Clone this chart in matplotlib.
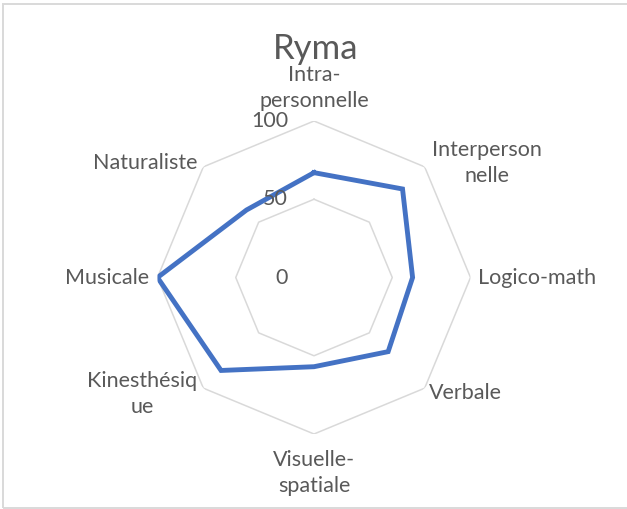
import numpy as np
import matplotlib
matplotlib.use("Agg")
import matplotlib.pyplot as plt
from matplotlib.patches import Rectangle

# --------------------------
# Data
# --------------------------
categories = ["Intra-\npersonnelle", "Interperson\nnelle", "Logico-math", "Verbale",
              "Visuelle-\nspatiale", "Kinesthésiq\nue", "Musicale", "Naturaliste"]
scores = [67, 80, 63, 67, 57, 84, 100, 61]
grid_levels = [50, 100]
tick_labels = ["0", "50", "100"]
title = "Ryma"

# label placement: (dx px, dy px, ha, va) relative to the outer vertex
label_pos = [(0, 10, "center", "bottom"),
             (62, 4, "center", "center"),
             (7, 0, "left", "center"),
             (4, -5, "left", "center"),
             (0, -16, "center", "top"),
             (-61, -6, "center", "center"),
             (-8, 0, "right", "center"),
             (-6, 4, "right", "center")]

TEXT = "#595959"
GRID = "#d9d9d9"
LINE = "#4472c4"
FS = 15.5
plt.rcParams["font.family"] = ["Lato", "DejaVu Sans"]

# --------------------------
# Figure
# --------------------------
fig = plt.figure(figsize=(6.27, 5.09), dpi=100)
fig.patches.append(Rectangle((3 / 627, 1.5 / 509), 1.2, 1 - 5.5 / 509,
                             transform=fig.transFigure, fill=False,
                             edgecolor=GRID, linewidth=1.4))

ax = fig.add_axes([0.2512, 0.1473, 0.4992, 0.615], projection="polar")
ax.set_theta_zero_location("N")
ax.set_theta_direction(-1)
ax.set_ylim(0, 100)
ax.axis("off")

n = len(categories)
theta = np.linspace(0, 2 * np.pi, n, endpoint=False)
theta_c = np.append(theta, theta[0])

# octagon gridlines
for lvl in grid_levels:
    ax.plot(theta_c, [lvl] * (n + 1), color=GRID, linewidth=1.1, zorder=1)

# series
vals = scores + scores[:1]
ax.plot(theta_c, vals, color=LINE, linewidth=3.5, solid_joinstyle="miter", zorder=3)

# radial value labels, left of the vertical axis
for lbl in tick_labels:
    ax.annotate(lbl, xy=(0, float(lbl)), xytext=(-26, 0), textcoords="offset pixels",
                ha="right", va="center", fontsize=FS, color=TEXT, zorder=4)

# category labels
for t, name, (dx, dy, ha, va) in zip(theta, categories, label_pos):
    ax.annotate(name, xy=(t, 100), xytext=(dx, dy), textcoords="offset pixels",
                ha=ha, va=va, fontsize=FS, color=TEXT, linespacing=1.4,
                multialignment="center", annotation_clip=False)

fig.text(0.504, 1 - 59 / 509, title, ha="center", va="baseline", fontsize=25, color=TEXT)

fig.savefig("out.png", dpi=100)
